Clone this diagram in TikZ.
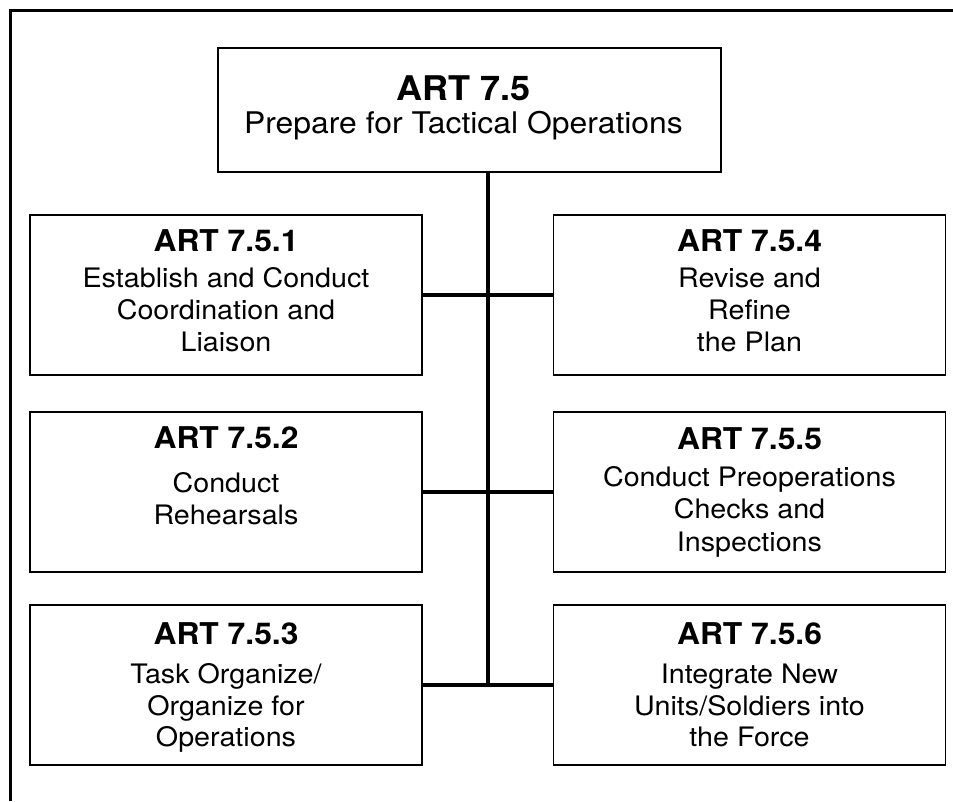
\documentclass[tikz,border=0pt]{standalone}
\usepackage{fontspec}
\setmainfont{TeX Gyre Heros}[FakeStretch=1.07, BoldFeatures={FakeStretch=1.06}]
\begin{document}
\begin{tikzpicture}[x=1pt, y=-1pt,
  box/.style={draw=black, line width=1.8pt, inner sep=0pt, minimum width=392pt, minimum height=160pt},
  ttl/.style={font=\fontsize{30}{34}\selectfont\bfseries, inner sep=0pt, anchor=base},
  txt/.style={font=\fontsize{26.8}{32}\selectfont, inner sep=0pt, anchor=base},
  bigttl/.style={font=\fontsize{34}{38}\selectfont\bfseries, inner sep=0pt, anchor=base},
  bigtxt/.style={font=\fontsize{29.8}{34}\selectfont, inner sep=0pt, anchor=base},
  link/.style={line width=4.5pt},
  frame/.style={line width=3pt}]
\useasboundingbox (0,0) rectangle (953,801);
\fill[white] (0,0) rectangle (953,801);
% outer frame (left and top edges only)
\coordinate (fbl) at (10,801);
\coordinate (ftl) at (10,10);
\coordinate (ftr) at (953,10);
\draw[frame] (fbl) -- (ftl) -- (ftr);

% boxes
\node[box, minimum width=503pt, minimum height=124pt] (T) at (469.5,110) {};
\node[box] (b1) at (226,295) {};
\node[box] (b4) at (749.5,295) {};
\node[box] (b2) at (226,492) {};
\node[box] (b5) at (749.5,492) {};
\node[box] (b3) at (226,685) {};
\node[box] (b6) at (749.5,685) {};

% connectors
\coordinate (j3) at (488,685);
\draw[link] (b1.east) -- (b4.west);
\draw[link] (b2.east) -- (b5.west);
\draw[link] (b3.east) -- (b6.west);
\draw[link] (T.south -| j3) -- (j3);

% top box text
\node[bigttl] (T1) at ([xshift=-6pt, yshift=-53.5pt]T.north) {ART 7.5};
\node[bigtxt] (T2) at ([xshift=-6pt, yshift=-86pt]T.north) {Prepare for Tactical Operations};

% box 7.5.1
\node[ttl] (b1a) at ([yshift=-37pt]b1.north) {ART 7.5.1};
\node[txt] (b1b) at ([yshift=-73pt]b1.north) {Establish and Conduct};
\node[txt] (b1c) at ([yshift=-105pt]b1.north) {Coordination and};
\node[txt] (b1d) at ([yshift=-137pt]b1.north) {Liaison};

% box 7.5.4
\node[ttl] (b4a) at ([yshift=-37pt]b4.north) {ART 7.5.4};
\node[txt] (b4b) at ([yshift=-73pt]b4.north) {Revise and};
\node[txt] (b4c) at ([yshift=-105pt]b4.north) {Refine};
\node[txt] (b4d) at ([yshift=-137pt]b4.north) {the Plan};

% box 7.5.2
\node[ttl] (b2a) at ([yshift=-37pt]b2.north) {ART 7.5.2};
\node[txt] (b2b) at ([yshift=-81pt]b2.north) {Conduct};
\node[txt] (b2c) at ([yshift=-113pt]b2.north) {Rehearsals};

% box 7.5.5
\node[ttl] (b5a) at ([yshift=-38pt]b5.north) {ART 7.5.5};
\node[txt] (b5b) at ([yshift=-75pt]b5.north) {Conduct Preoperations};
\node[txt] (b5c) at ([yshift=-107pt]b5.north) {Checks and};
\node[txt] (b5d) at ([yshift=-140pt]b5.north) {Inspections};

% box 7.5.3
\node[ttl] (b3a) at ([yshift=-40pt]b3.north) {ART 7.5.3};
\node[txt] (b3b) at ([yshift=-79pt]b3.north) {Task Organize/};
\node[txt] (b3c) at ([yshift=-111pt]b3.north) {Organize for};
\node[txt] (b3d) at ([yshift=-142pt]b3.north) {Operations};

% box 7.5.6
\node[ttl] (b6a) at ([yshift=-40pt]b6.north) {ART 7.5.6};
\node[txt] (b6b) at ([yshift=-79pt]b6.north) {Integrate New};
\node[txt] (b6c) at ([yshift=-111pt]b6.north) {Units/Soldiers into};
\node[txt] (b6d) at ([yshift=-142pt]b6.north) {the Force};
\end{tikzpicture}
\end{document}
